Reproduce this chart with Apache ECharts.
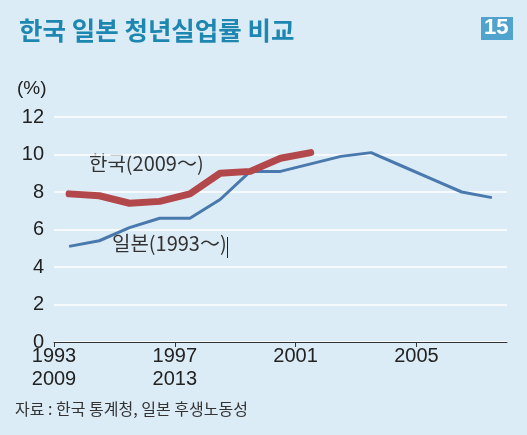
<!DOCTYPE html>
<html>
<head>
<meta charset="utf-8">
<script src="https://cdn.jsdelivr.net/npm/echarts@6/dist/echarts.min.js"></script>
<style>
  html, body { margin: 0; padding: 0; background: #dcecf6; }
  #chart { width: 527px; height: 435px; }
</style>
</head>
<body>
<div id="chart"></div>
<script>
// 일본 청년실업률 (1993~2007)
var japanYears = [1993, 1994, 1995, 1996, 1997, 1998, 1999, 2000, 2001, 2002, 2003, 2004, 2005, 2006, 2007];
var japanValues = [5.1, 5.4, 6.1, 6.6, 6.6, 7.6, 9.1, 9.1, 9.5, 9.9, 10.1, 9.4, 8.7, 8.0, 7.7];

// 한국 청년실업률 (2009~2017), 16년 앞당겨 겹쳐 그림
var koreaYears = [2009, 2010, 2011, 2012, 2013, 2014, 2015, 2016, 2017];
var koreaValues = [7.9, 7.8, 7.4, 7.5, 7.9, 9.0, 9.1, 9.8, 10.1];
var koreaShift = 16;

var tickYears = [1993, 1997, 2001, 2005];
var tickLabels = ["1993\n2009", "1997\n2013", "2001", "2005"];

var fontNum = "'Liberation Sans Narrow', 'Liberation Sans', Arial, sans-serif";
var fontKr = "'Noto Sans CJK KR', 'Noto Sans', sans-serif";

function toPoints(years, values, shift) {
  return years.map(function (y, i) {
    return [y - shift + 0.5, values[i]];
  });
}

var dom = document.getElementById("chart");
var myChart = echarts.init(dom, null, { renderer: "canvas" });

var option = {
  backgroundColor: "#dcecf6",
  animation: false,
  title: {
    text: "한국 일본 청년실업률 비교",
    left: 14,
    top: 13,
    textStyle: {
      fontFamily: fontKr,
      fontSize: 25.5,
      fontWeight: "bold",
      color: "#1e87b1",
    },
  },
  grid: {
    left: 54,
    right: 20,
    top: 117,
    bottom: 93,
  },
  xAxis: {
    type: "value",
    min: 1993,
    max: 2008,
    axisLine: { show: true, lineStyle: { color: "#333", width: 1 } },
    axisTick: {
      show: true,
      length: 5,
      customValues: tickYears,
      lineStyle: { color: "#333" },
    },
    axisLabel: {
      customValues: tickYears,
      margin: 3,
      fontFamily: fontNum,
      fontSize: 20,
      lineHeight: 23,
      color: "#222",
      verticalAlign: "top",
      formatter: function (v) {
        var i = tickYears.indexOf(v);
        return i >= 0 ? tickLabels[i] : "";
      },
    },
    splitLine: { show: false },
  },
  yAxis: {
    type: "value",
    min: 0,
    max: 12,
    interval: 2,
    axisLine: { show: false },
    axisTick: { show: false },
    axisLabel: {
      margin: 10,
      fontFamily: fontNum,
      fontSize: 20,
      color: "#222",
    },
    splitLine: { lineStyle: { color: "#ffffff", width: 1.5 } },
  },
  series: [
    {
      name: "일본",
      type: "line",
      data: toPoints(japanYears, japanValues, 0),
      showSymbol: false,
      lineStyle: { color: "#4a79ad", width: 3 },
    },
    {
      name: "한국",
      type: "line",
      data: toPoints(koreaYears, koreaValues, koreaShift),
      showSymbol: false,
      lineStyle: { color: "#b3484c", width: 7, cap: "round", join: "round" },
    },
  ],
  graphic: [
    {
      type: "rect",
      left: 481,
      top: 17,
      shape: { width: 32, height: 23 },
      style: { fill: "#4fa3cd" },
    },
    {
      type: "text",
      left: 484,
      top: 17,
      style: {
        text: "15",
        fill: "#ffffff",
        font: "bold 22px 'Liberation Sans Narrow', 'Liberation Sans', Arial, sans-serif",
      },
    },
    {
      type: "text",
      left: 17,
      top: 79,
      style: { text: "(%)", fill: "#222", font: "19px " + fontNum },
    },
    {
      type: "text",
      left: 89,
      top: 153,
      style: { text: "한국(2009～)", fill: "#333", font: "20px " + fontKr },
    },
    {
      type: "text",
      left: 112,
      top: 233,
      style: { text: "일본(1993～)", fill: "#333", font: "20px " + fontKr },
    },
    {
      type: "line",
      shape: { x1: 227.5, y1: 237, x2: 227.5, y2: 258 },
      style: { stroke: "#222", lineWidth: 1 },
    },
    {
      type: "text",
      left: 15,
      top: 401,
      style: { text: "자료 : 한국 통계청, 일본 후생노동성", fill: "#333", font: "16px " + fontKr },
    },
  ],
};

myChart.setOption(option);
window.addEventListener("resize", myChart.resize);
</script>
</body>
</html>
